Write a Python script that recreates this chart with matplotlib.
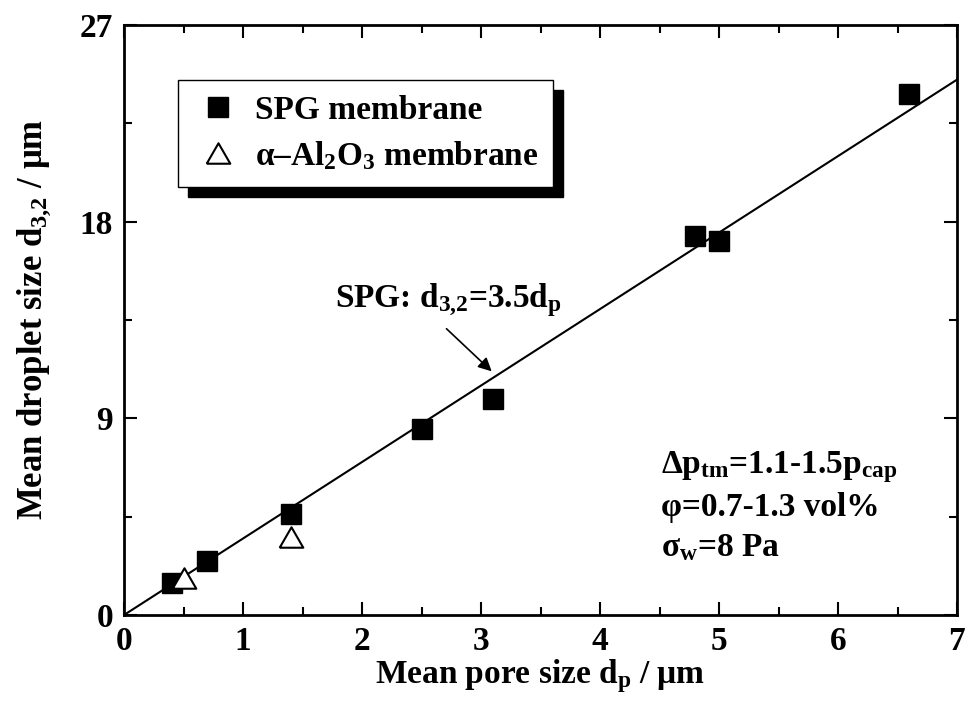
import matplotlib
matplotlib.use("Agg")
import matplotlib.pyplot as plt
from matplotlib.ticker import MultipleLocator

plt.rcParams['font.family'] = ['Liberation Serif', 'DejaVu Serif']
plt.rcParams['font.weight'] = 'bold'
plt.rcParams['axes.labelweight'] = 'bold'
plt.rcParams['mathtext.fontset'] = 'custom'
plt.rcParams['mathtext.rm'] = 'Liberation Serif:bold'
plt.rcParams['mathtext.it'] = 'Liberation Serif:bold'
plt.rcParams['mathtext.bf'] = 'Liberation Serif:bold'

# data
spg_dp = [0.4, 0.7, 1.4, 2.5, 3.1, 4.8, 5.0, 6.6]
spg_d32 = [1.45, 2.45, 4.6, 8.5, 9.9, 17.35, 17.1, 23.85]
al_dp = [0.5, 1.4]
al_d32 = [1.7, 3.55]
fit_slope = 3.5
fit_x = [0, 7]
x_ticks = [0, 1, 2, 3, 4, 5, 6, 7]
y_ticks = [0, 9, 18, 27]

fig = plt.figure(figsize=(9.67, 7.12), dpi=100)
ax = fig.add_axes([124/967, 1-615/712, (957-124)/967, (615-25)/712])

ax.plot(fit_x, [fit_slope*v for v in fit_x], color='k', lw=1.5, zorder=2)
ax.plot(spg_dp, spg_d32, 's', color='k', ms=14.5, ls='none', zorder=3, label='SPG membrane')
tri = [(-1, -0.866), (1, -0.866), (0, 0.866), (-1, -0.866)]
ax.plot(al_dp, al_d32, marker=tri, mfc='white', mec='k', mew=1.5, ms=17, ls='none', zorder=3,
        label='α–Al$_2$O$_3$ membrane')

ax.set_xlim(0, 7)
ax.set_ylim(0, 27)
ax.set_xticks(x_ticks)
ax.set_yticks(y_ticks)
ax.xaxis.set_minor_locator(MultipleLocator(0.5))
ax.yaxis.set_minor_locator(MultipleLocator(4.5))
ax.tick_params(which='both', direction='in', top=True, right=True, labelsize=24, width=1.5)
ax.tick_params(which='major', length=9.5, pad=8)
ax.tick_params(which='minor', length=6)
for s in ax.spines.values():
    s.set_linewidth(2)

ax.set_xlabel('Mean pore size d$_p$ / μm', fontsize=24, fontweight='bold', labelpad=0)
ax.set_ylabel('Mean droplet size d$_{3{,}2}$ / μm', fontsize=25, fontweight='bold', labelpad=19)

leg = ax.legend(loc='upper left', bbox_to_anchor=(0.065, 0.907), borderaxespad=0,
                fontsize=24, frameon=True, fancybox=False, numpoints=1,
                handlelength=1.5, handletextpad=0.35, labelspacing=0.4, borderpad=0.45,
                shadow={'ox': 7, 'oy': -7, 'color': 'k', 'alpha': 1})
leg.get_frame().set_edgecolor('k')
leg.get_frame().set_linewidth(1)

ax.text(1.77, 14.1, 'SPG: d$_{3{,}2}$=3.5d$_p$', fontsize=24, ha='left', va='baseline')
ax.annotate('', xy=(3.09, 11.15), xytext=(2.71, 13.1),
            arrowprops=dict(arrowstyle='-|>', color='k', lw=1.2, mutation_scale=20,
                            shrinkA=0, shrinkB=0))

ax.text(0.645, 0.24, 'Δp$_{tm}$=1.1-1.5p$_{cap}$', transform=ax.transAxes, fontsize=24, va='baseline')
ax.text(0.645, 0.168, 'φ=0.7-1.3 vol%', transform=ax.transAxes, fontsize=24, va='baseline')
ax.text(0.645, 0.10, 'σ$_w$=8 Pa', transform=ax.transAxes, fontsize=24, va='baseline')

fig.savefig('out.png', dpi=100)
